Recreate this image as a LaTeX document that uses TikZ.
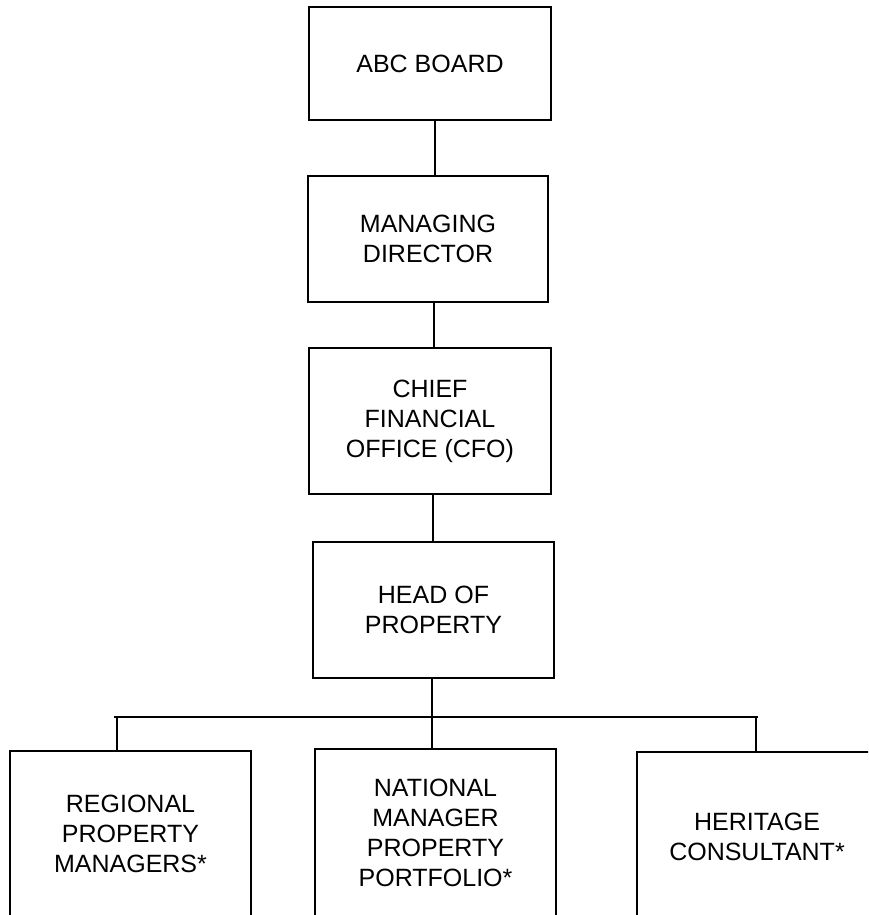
\documentclass[tikz,border=0pt]{standalone}
\usepackage{fontspec}
\setmainfont{Liberation Sans}
\begin{document}
\begin{tikzpicture}[x=1pt,y=-1pt,
  orgbox/.style={draw=black,line width=1.3pt,rectangle,align=center,
    inner sep=0pt,font=\fontsize{25}{30}\selectfont},
  link/.style={line width=1.5pt,line cap=rect}]
\useasboundingbox (0,0) rectangle (868,915);
\clip (0,0) rectangle (868,915);
\node[orgbox,minimum width=242,minimum height=113] (abc) at (430,63.5) {ABC BOARD};
\node[orgbox,minimum width=240,minimum height=126] (md) at (428,239) {MANAGING\\DIRECTOR};
\node[orgbox,minimum width=242,minimum height=146] (cfo) at (430,421) {CHIEF\\FINANCIAL\\OFFICE (CFO)};
\node[orgbox,minimum width=241,minimum height=136] (hop) at (433.5,610) {HEAD OF\\PROPERTY};
\node[orgbox,minimum width=241,minimum height=166] (rpm) at (130.5,834) {REGIONAL\\PROPERTY\\MANAGERS*};
\node[orgbox,minimum width=241,minimum height=167] (nmp) at (435.5,832.5) {NATIONAL\\MANAGER\\PROPERTY\\PORTFOLIO*};
\node[orgbox,minimum width=240,minimum height=169] (her) at (757,836.5) {HERITAGE\\CONSULTANT*};
\coordinate (c1) at (435,0);
\coordinate (c2) at (434,0);
\coordinate (c3) at (433,0);
\coordinate (c4) at (432,0);
\coordinate (busL) at (114,717);
\coordinate (busR) at (758,717);
\coordinate (dL) at (117,0);
\coordinate (dR) at (756,0);
\draw[link] (abc.south -| c1) -- (md.north -| c1);
\draw[link] (md.south -| c2) -- (cfo.north -| c2);
\draw[link] (cfo.south -| c3) -- (hop.north -| c3);
\draw[link] (hop.south -| c4) -- (nmp.north -| c4);
\draw[line width=1.5pt] (busL) -- (busR);
\draw[link] (busL -| dL) -- (rpm.north -| dL);
\draw[link] (busR -| dR) -- (her.north -| dR);
\end{tikzpicture}
\end{document}
